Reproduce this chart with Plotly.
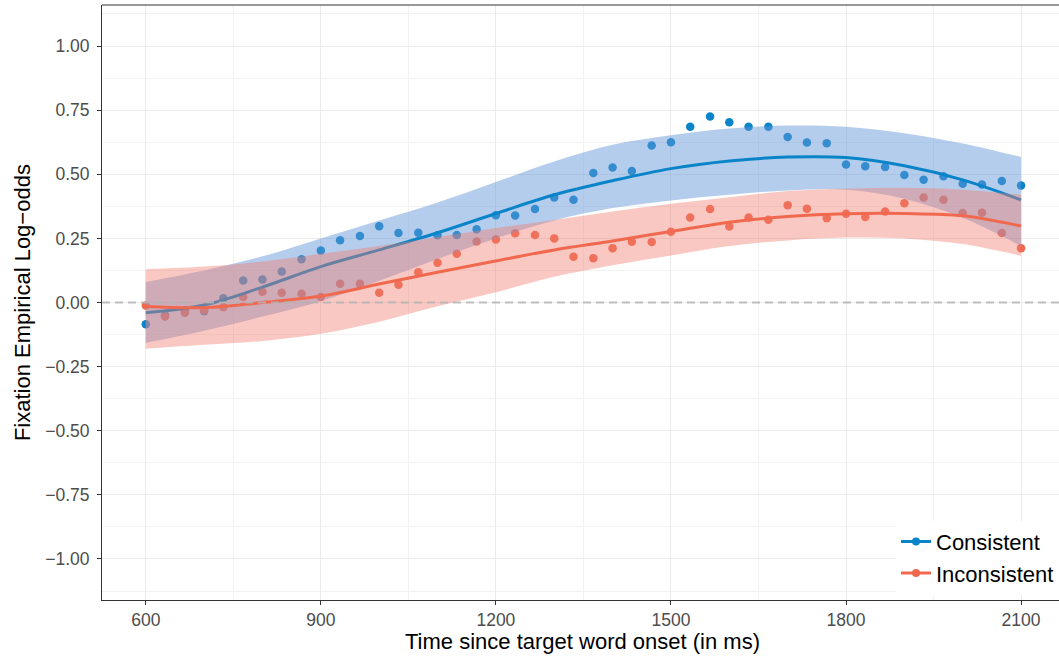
import plotly.graph_objects as go

# ---- Data ----
time_pts = [600, 633, 667, 700, 733, 767, 800, 833, 867, 900, 933, 967, 1000, 1033, 1067, 1100,
            1133, 1167, 1200, 1233, 1267, 1300, 1333, 1367, 1400, 1433, 1467, 1500, 1533, 1567,
            1600, 1633, 1667, 1700, 1733, 1767, 1800, 1833, 1867, 1900, 1933, 1967, 2000, 2033,
            2067, 2100]
consistent_pts = [-0.085, -0.05, -0.03, -0.034, 0.017, 0.086, 0.09, 0.121, 0.169, 0.203, 0.243,
                  0.259, 0.297, 0.271, 0.272, 0.262, 0.263, 0.286, 0.34, 0.339, 0.365, 0.409,
                  0.401, 0.505, 0.526, 0.513, 0.612, 0.625, 0.685, 0.725, 0.703, 0.685, 0.685,
                  0.645, 0.624, 0.621, 0.538, 0.531, 0.528, 0.497, 0.479, 0.492, 0.463, 0.46,
                  0.474, 0.456]
inconsistent_pts = [-0.012, -0.055, -0.04, -0.03, -0.018, 0.021, 0.042, 0.038, 0.034, 0.021,
                    0.073, 0.073, 0.038, 0.069, 0.118, 0.155, 0.19, 0.238, 0.246, 0.27, 0.263,
                    0.25, 0.178, 0.173, 0.212, 0.237, 0.236, 0.276, 0.331, 0.365, 0.296, 0.331,
                    0.323, 0.379, 0.366, 0.329, 0.346, 0.333, 0.355, 0.387, 0.409, 0.401, 0.349,
                    0.35, 0.271, 0.212]

fit_time = [600, 700, 800, 900, 1000, 1100, 1200, 1300, 1400, 1500, 1600, 1700, 1800, 1900, 2000, 2100]
consistent_fit = [-0.04, -0.01, 0.06, 0.14, 0.205, 0.272, 0.347, 0.42, 0.475, 0.522, 0.552, 0.567,
                  0.565, 0.533, 0.478, 0.40]
consistent_hi = [0.08, 0.125, 0.18, 0.25, 0.32, 0.39, 0.47, 0.55, 0.615, 0.652, 0.678, 0.69,
                 0.685, 0.66, 0.62, 0.567]
consistent_lo = [-0.157, -0.11, -0.055, 0.005, 0.085, 0.17, 0.25, 0.32, 0.368, 0.398, 0.42, 0.437,
                 0.44, 0.405, 0.33, 0.22]
inconsistent_fit = [-0.016, -0.02, 0.0, 0.025, 0.072, 0.118, 0.162, 0.205, 0.24, 0.277, 0.313,
                    0.335, 0.346, 0.347, 0.338, 0.298]
inconsistent_hi = [0.13, 0.14, 0.16, 0.19, 0.22, 0.255, 0.29, 0.322, 0.355, 0.385, 0.41, 0.435,
                   0.444, 0.447, 0.44, 0.42]
inconsistent_lo = [-0.18, -0.165, -0.15, -0.122, -0.075, -0.015, 0.04, 0.1, 0.145, 0.183, 0.22,
                   0.242, 0.253, 0.25, 0.228, 0.182]

x_ticks = [600, 900, 1200, 1500, 1800, 2100]
y_ticks = [-1.0, -0.75, -0.5, -0.25, 0.0, 0.25, 0.5, 0.75, 1.0]

x_title = "Time since target word onset (in ms)"
y_title = "Fixation Empirical Log\u2212odds"

BLUE = "#0A84C8"
RED = "#F0694F"
BLUE_FILL = "rgba(100,150,215,0.48)"
RED_FILL = "rgba(240,125,110,0.42)"
FONT = "Liberation Sans, Arial, sans-serif"

fig = go.Figure()

# points first (ribbons are drawn over them, as in the reference)
fig.add_trace(go.Scatter(x=time_pts, y=consistent_pts, mode="markers",
                         marker=dict(color=BLUE, size=8.5), showlegend=False, hoverinfo="skip"))
fig.add_trace(go.Scatter(x=time_pts, y=inconsistent_pts, mode="markers",
                         marker=dict(color=RED, size=8.5), showlegend=False, hoverinfo="skip"))

# Consistent ribbon + line
fig.add_trace(go.Scatter(x=fit_time, y=consistent_hi, mode="lines", line=dict(width=0, shape="spline"),
                         showlegend=False, hoverinfo="skip"))
fig.add_trace(go.Scatter(x=fit_time, y=consistent_lo, mode="lines", line=dict(width=0, shape="spline"),
                         fill="tonexty", fillcolor=BLUE_FILL, showlegend=False, hoverinfo="skip"))
fig.add_trace(go.Scatter(x=fit_time, y=consistent_fit, mode="lines",
                         line=dict(color=BLUE, width=3, shape="spline"), showlegend=False))

# Inconsistent ribbon + line
fig.add_trace(go.Scatter(x=fit_time, y=inconsistent_hi, mode="lines", line=dict(width=0, shape="spline"),
                         showlegend=False, hoverinfo="skip"))
fig.add_trace(go.Scatter(x=fit_time, y=inconsistent_lo, mode="lines", line=dict(width=0, shape="spline"),
                         fill="tonexty", fillcolor=RED_FILL, showlegend=False, hoverinfo="skip"))
fig.add_trace(go.Scatter(x=fit_time, y=inconsistent_fit, mode="lines",
                         line=dict(color=RED, width=3, shape="spline"), showlegend=False))

# legend entries
fig.add_trace(go.Scatter(x=[None], y=[None], mode="lines+markers", name="Consistent",
                         legendgroup="c", line=dict(color=BLUE, width=3), marker=dict(color=BLUE, size=8)))
fig.add_trace(go.Scatter(x=[None], y=[None], mode="lines+markers", name="Inconsistent",
                         legendgroup="i", line=dict(color=RED, width=3), marker=dict(color=RED, size=8)))

# zero reference line (drawn over the ribbons)
fig.add_shape(type="line", xref="paper", x0=0, x1=1, yref="y", y0=0, y1=0,
              line=dict(color="rgba(180,180,180,0.85)", width=2, dash="8px,5px"), layer="above")
# top frame line
fig.add_shape(type="line", xref="paper", x0=0, x1=1, yref="paper", y0=1, y1=1,
              line=dict(color="#333333", width=1))

# axis titles
fig.add_annotation(text=x_title, xref="paper", yref="paper", x=0.5026, y=-0.07,
                   xanchor="center", yanchor="middle", showarrow=False,
                   font=dict(size=22, color="black", family=FONT))
fig.add_annotation(text=y_title, xref="paper", yref="paper", x=-0.083, y=0.5,
                   xanchor="center", yanchor="middle", textangle=-90, showarrow=False,
                   font=dict(size=22, color="black", family=FONT))

fig.update_layout(
    width=1059, height=658,
    margin=dict(l=102, r=0, t=5, b=58),
    plot_bgcolor="white", paper_bgcolor="white",
    font=dict(family=FONT, color="#4D4D4D", size=17.5),
    legend=dict(x=1, y=0.009, xanchor="right", yanchor="bottom", bgcolor="white",
                traceorder="normal", tracegroupgap=4,
                font=dict(size=22, color="black"), itemwidth=30),
    xaxis=dict(range=[525, 2165], tickvals=x_ticks, showgrid=True, gridcolor="#EBEBEB", gridwidth=1.2,
               minor=dict(dtick=150, tick0=600, showgrid=True, gridcolor="#F2F2F2", gridwidth=0.6),
               zeroline=False, showline=True, linecolor="#333333", linewidth=1,
               ticks="outside", ticklen=4, tickcolor="#333333", automargin=False,
               tickfont=dict(size=17.5, color="#4D4D4D")),
    yaxis=dict(range=[-1.16, 1.16], tickvals=y_ticks, tickformat=".2f", showgrid=True,
               gridcolor="#EBEBEB", gridwidth=1.2,
               minor=dict(dtick=0.125, tick0=0, showgrid=True, gridcolor="#F2F2F2", gridwidth=0.6),
               zeroline=False, showline=True, linecolor="#333333", linewidth=1,
               ticks="outside", ticklen=4, tickcolor="#333333", automargin=False,
               ticklabelstandoff=4,
               tickfont=dict(size=17.5, color="#4D4D4D")),
)

fig.write_html("out.html", config={"displayModeBar": False},
               post_script="document.body.style.margin='0px';document.body.style.overflow='hidden';")
